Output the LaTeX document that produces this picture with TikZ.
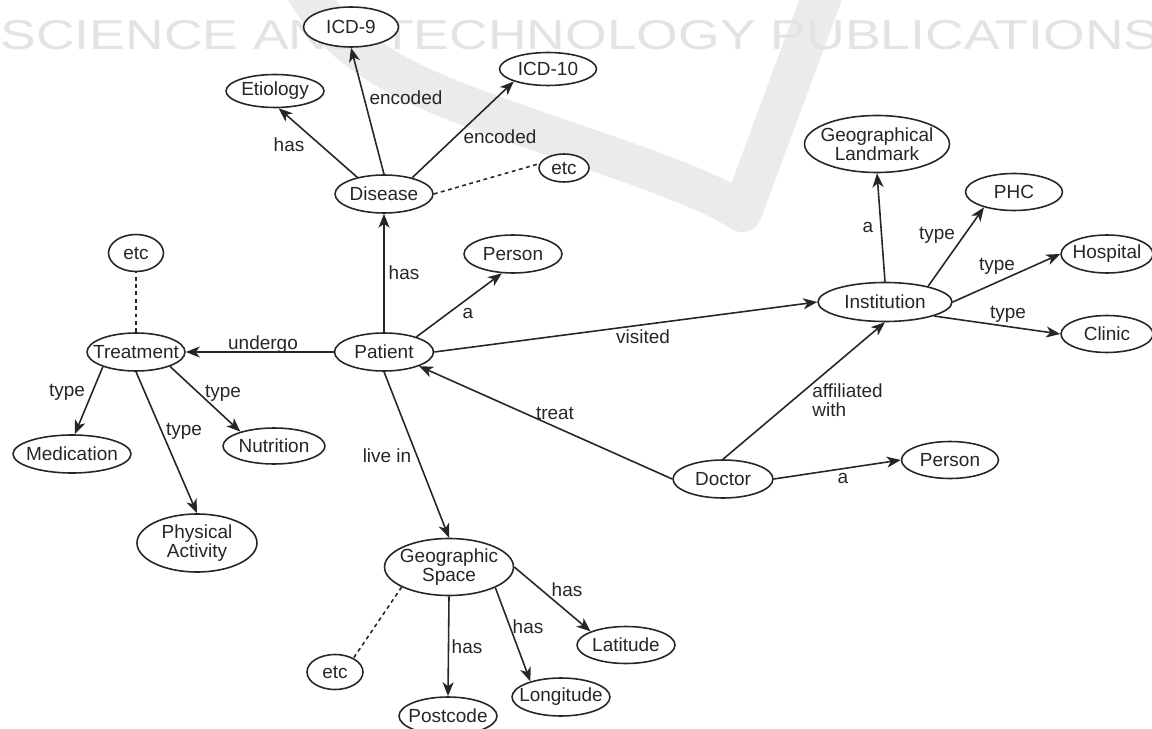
\documentclass[tikz,border=0pt]{standalone}
\usepackage{fontspec}
\setmainfont{Liberation Sans}
\usetikzlibrary{shapes.geometric,arrows.meta}

\begin{document}
\begin{tikzpicture}[x=0.02cm,y=-0.02cm,
    font=\fontsize{10.8}{10.5}\selectfont,
    ent/.style={ellipse, draw=black!85, fill=white, line width=0.9pt, inner xsep=-1cm, inner ysep=-0.5cm,
      minimum width=1.96cm, minimum height=0.76cm, align=center, text=black!85},
    lbl/.style={text=black!85, inner sep=0pt},
    rel/.style={draw=black!85, line width=0.9pt, -{Stealth[length=2.8mm,width=2.2mm,inset=0.8mm]}},
    more/.style={draw=black!85, line width=0.9pt, dash pattern=on 2.2pt off 2pt},
    wm/.style={black!8}]
    \useasboundingbox (0,0) rectangle (1152,729);
    \draw[wm, line width=0.8cm, line join=round, line cap=round] (300,-20) .. controls (340,60) and (420,90) .. (520,125)
      .. controls (620,160) and (700,185) .. (742,212) -- (828,-20);
    \node[black!11, font=\fontsize{23.8}{24}\selectfont, xscale=1.28] (wmark) at (580,35) {SCIENCE AND TECHNOLOGY PUBLICATIONS};

    \node[ent, minimum width=1.9cm, minimum height=0.8cm] (icd9) at (351,27) {ICD-9};
    \node[ent, minimum width=1.94cm, minimum height=0.66cm] (icd10) at (548,69) {ICD-10};
    \node[ent, minimum height=0.66cm] (etio) at (275,91) {Etiology};
    \node[ent] (dis) at (384,194) {Disease};
    \node[ent, minimum width=1cm, minimum height=0.56cm] (etcD) at (564,168) {etc};
    \node[ent, minimum width=1.1cm, minimum height=0.74cm] (etcT) at (136,253) {etc};
    \node[ent] (trt) at (136,352) {Treatment};
    \node[ent, minimum width=1.98cm] (pat) at (384,352) {Patient};
    \node[ent] (pers1) at (513,254) {Person};
    \node[ent, minimum width=2.36cm] (med) at (72,454) {Medication};
    \node[ent, minimum width=2.04cm, minimum height=0.72cm] (nut) at (274,446) {Nutrition};
    \node[ent, minimum width=2.4cm, minimum height=1.16cm] (phys) at (197,543) {Physical\\Activity};
    \node[ent, minimum width=2.58cm, minimum height=1.14cm] (geo) at (449,567) {Geographic\\Space};
    \node[ent, minimum width=1.12cm, minimum height=0.7cm] (etcG) at (335,672) {etc};
    \node[ent, minimum height=0.74cm] (lat) at (626,645) {Latitude};
    \node[ent] (lon) at (561,697) {Longitude};
    \node[ent] (post) at (448,716) {Postcode};
    \node[ent, minimum width=2cm] (doc) at (723,479) {Doctor};
    \node[ent, minimum width=1.94cm, minimum height=0.74cm] (pers2) at (950,460) {Person};
    \node[ent, minimum width=2.68cm, minimum height=0.78cm] (inst) at (885,302) {Institution};
    \node[ent, minimum width=2.9cm, minimum height=1.14cm] (land) at (877,144) {Geographical\\Landmark};
    \node[ent, minimum width=1.94cm, minimum height=0.74cm] (phc) at (1014,192) {PHC};
    \node[ent, minimum width=1.84cm] (hosp) at (1107,254) {Hospital};
    \node[ent, minimum width=1.84cm, minimum height=0.74cm] (clin) at (1107,334) {Clinic};

    \draw[rel] (dis.148) -- (etio.282);
    \draw[rel] (dis.north) -- (icd9.south);
    \draw[rel] (dis.30) -- (icd10.200);
    \draw[more] (dis.east) -- (etcD.170);
    \draw[rel] (pat.north) -- (dis.south);
    \draw[rel] (pat.25) -- (pers1.240);
    \draw[rel] (pat.east) -- (inst.west);
    \draw[rel] (pat.west) -- (trt.east);
    \draw[rel] (pat.south) -- (geo.north);
    \draw[rel] (doc.west) -- (pat.338);
    \draw[rel] (doc.north) -- (inst.south);
    \draw[rel] (doc.east) -- (pers2.west);
    \draw[rel] (inst.north) -- (land.south);
    \draw[rel] (inst.20) -- (phc.207);
    \draw[rel] (inst.east) -- (hosp.west);
    \draw[rel] (inst.344) -- (clin.west);
    \draw[rel] (trt.204) -- (med.82);
    \draw[rel] (trt.south) -- (phys.north);
    \draw[rel] (trt.337) -- (nut.157);
    \draw[more] (trt.north) -- (etcT.south);
    \draw[rel] (geo.east) -- (lat.159);
    \draw[rel] (geo.336) -- (lon.153);
    \draw[rel] (geo.south) -- (post.north);
    \draw[more] (geo.203) -- (etcG.37);

    \node[lbl] (hasEtio) at (289,145) {has};
    \node[lbl] (encNine) at (406,98) {encoded};
    \node[lbl] (encTen) at (500,137) {encoded};
    \node[lbl] (hasDis) at (404,273) {has};
    \node[lbl] (aPers) at (468,313) {a};
    \node[lbl] (visited) at (643,337) {visited};
    \node[lbl] (undergo) at (263,345) {undergo};
    \node[lbl] (livein) at (387,456) {live in};
    \node[lbl] (treat) at (555,413) {treat};
    \node[lbl, anchor=west, align=left] (affil) at (812,400) {affiliated\\with};
    \node[lbl] (aDoc) at (843,478) {a};
    \node[lbl] (aLand) at (868,227) {a};
    \node[lbl] (typePhc) at (937,235) {type};
    \node[lbl] (typeHosp) at (997,266) {type};
    \node[lbl] (typeClin) at (1008,314) {type};
    \node[lbl] (typeMed) at (67,392) {type};
    \node[lbl] (typePhys) at (184,431) {type};
    \node[lbl] (typeNut) at (223,393) {type};
    \node[lbl] (hasLat) at (567,590) {has};
    \node[lbl] (hasLon) at (528,627) {has};
    \node[lbl] (hasPost) at (467,647) {has};
\end{tikzpicture}
\end{document}
